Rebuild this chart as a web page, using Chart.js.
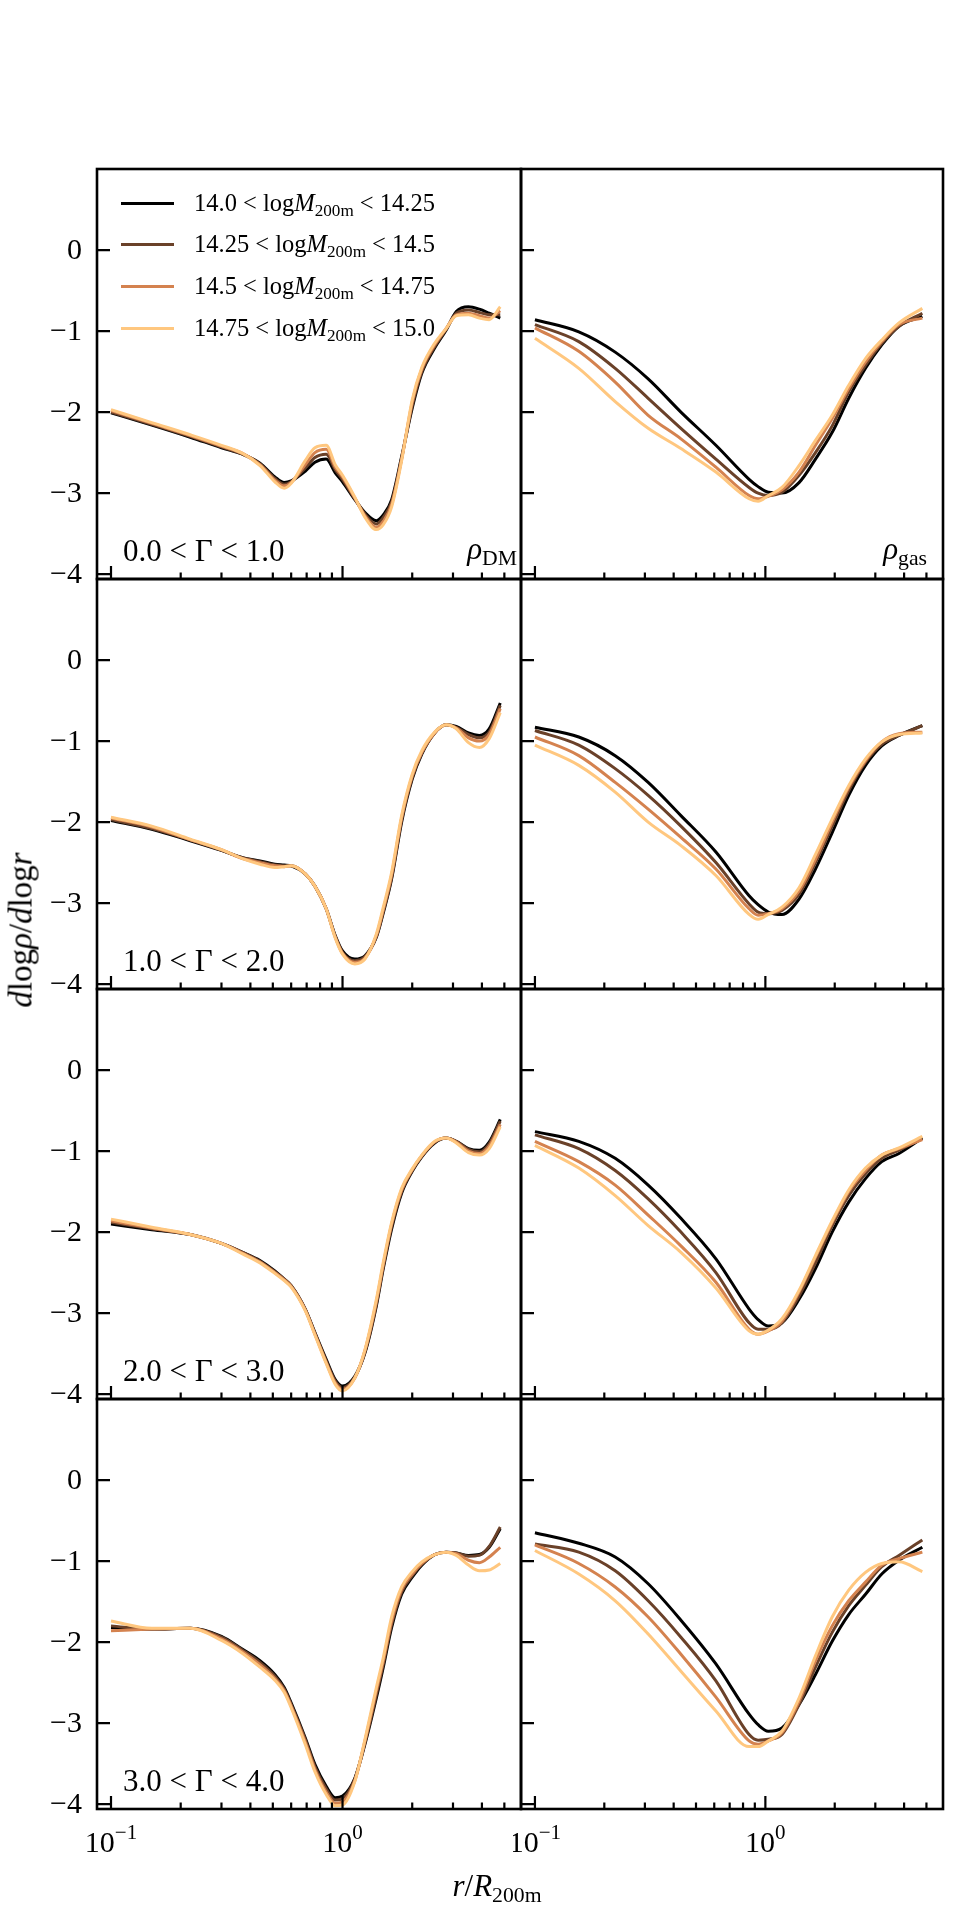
<!DOCTYPE html>
<html>
<head>
<meta charset="utf-8">
<script src="https://cdn.jsdelivr.net/npm/chart.js@4.4.1/dist/chart.umd.min.js"></script>
<style>
  body { margin: 0; background: #fff; }
  #fig { position: relative; width: 972px; height: 1911px; font-family: "Liberation Serif", serif; color: #000; }
  #fig canvas { position: absolute; }
  .txt { position: absolute; white-space: nowrap; line-height: 1; }
  .txt sub { font-size: 0.7em; vertical-align: -0.28em; line-height: 0; }
  .key { position: absolute; height: 3px; width: 53px; }
</style>
</head>
<body>
<div id="fig"></div>
<script>
// r / R200m sample points
const radiusDM = [0.1, 0.15, 0.22, 0.3, 0.37, 0.44, 0.51, 0.56, 0.6, 0.69, 0.76, 0.85, 0.93, 1.0, 1.13, 1.25, 1.4, 1.5, 1.63, 1.8, 2.0, 2.2, 2.5, 2.8, 3.1, 3.5, 3.9, 4.3, 4.8];
const radiusGas = [0.1, 0.155, 0.223, 0.31, 0.43, 0.61, 0.85, 0.93, 1.03, 1.18, 1.4, 1.65, 1.95, 2.3, 2.72, 3.2, 3.8, 4.8];

const massBins = ["14.0", "14.25", "14.5", "14.75", "15.0"];
const gammaBins = ["0.0", "1.0", "2.0", "3.0", "4.0"];
const colors = ["#000000", "#6a4129", "#d4824f", "#ffc77f"]; // copper

const yTicks = [0, -1, -2, -3, -4];
const yTickLabels = ["0", "\u22121", "\u22122", "\u22123", "\u22124"];
const xMajor = [0.1, 1];
const xMajorExp = ["\u22121", "0"];
const xMinor = [0.2, 0.3, 0.4, 0.5, 0.6, 0.7, 0.8, 0.9, 2, 3, 4, 5];

// dlog rho / dlog r, dark matter, one row per mass bin
const dmGamma0 = [
  [-2.01, -2.16, -2.31, -2.44, -2.52, -2.63, -2.80, -2.87, -2.85, -2.73, -2.62, -2.58, -2.75, -2.86, -3.08, -3.24, -3.34, -3.27, -3.08, -2.55, -1.95, -1.52, -1.21, -0.99, -0.76, -0.70, -0.73, -0.78, -0.84],
  [-2.00, -2.15, -2.30, -2.43, -2.52, -2.64, -2.82, -2.89, -2.86, -2.69, -2.56, -2.52, -2.71, -2.83, -3.07, -3.26, -3.38, -3.30, -3.11, -2.57, -1.92, -1.50, -1.19, -0.98, -0.78, -0.74, -0.77, -0.80, -0.80],
  [-1.98, -2.14, -2.29, -2.42, -2.51, -2.65, -2.84, -2.91, -2.87, -2.65, -2.50, -2.46, -2.68, -2.80, -3.06, -3.28, -3.42, -3.35, -3.14, -2.58, -1.88, -1.47, -1.17, -0.97, -0.80, -0.78, -0.81, -0.84, -0.75],
  [-1.97, -2.13, -2.28, -2.41, -2.51, -2.66, -2.86, -2.94, -2.88, -2.60, -2.44, -2.41, -2.65, -2.78, -3.05, -3.30, -3.45, -3.39, -3.17, -2.60, -1.85, -1.45, -1.15, -0.97, -0.81, -0.80, -0.84, -0.86, -0.70]
];
const dmGamma1 = [
  [-1.98, -2.09, -2.23, -2.35, -2.44, -2.48, -2.52, -2.53, -2.54, -2.64, -2.79, -3.07, -3.40, -3.59, -3.69, -3.65, -3.42, -3.12, -2.70, -2.00, -1.47, -1.16, -0.90, -0.80, -0.82, -0.90, -0.93, -0.85, -0.53],
  [-1.97, -2.08, -2.22, -2.35, -2.44, -2.49, -2.53, -2.54, -2.54, -2.64, -2.79, -3.07, -3.41, -3.61, -3.71, -3.66, -3.41, -3.10, -2.68, -1.97, -1.45, -1.15, -0.90, -0.80, -0.83, -0.92, -0.96, -0.89, -0.56],
  [-1.95, -2.06, -2.22, -2.34, -2.45, -2.50, -2.54, -2.55, -2.54, -2.64, -2.79, -3.07, -3.42, -3.62, -3.73, -3.68, -3.40, -3.08, -2.65, -1.95, -1.43, -1.14, -0.90, -0.80, -0.84, -0.96, -1.00, -0.92, -0.60],
  [-1.94, -2.05, -2.21, -2.34, -2.45, -2.52, -2.56, -2.55, -2.54, -2.64, -2.79, -3.07, -3.43, -3.63, -3.75, -3.69, -3.38, -3.05, -2.62, -1.92, -1.41, -1.12, -0.89, -0.80, -0.85, -1.02, -1.08, -0.97, -0.65]
];
const dmGamma2 = [
  [-1.90, -1.97, -2.03, -2.14, -2.25, -2.35, -2.48, -2.58, -2.66, -2.95, -3.24, -3.57, -3.82, -3.90, -3.78, -3.49, -2.91, -2.45, -1.96, -1.52, -1.25, -1.07, -0.90, -0.84, -0.88, -0.97, -0.99, -0.89, -0.61],
  [-1.88, -1.96, -2.03, -2.14, -2.25, -2.36, -2.49, -2.58, -2.66, -2.95, -3.25, -3.59, -3.84, -3.92, -3.79, -3.48, -2.89, -2.42, -1.93, -1.50, -1.24, -1.06, -0.89, -0.84, -0.88, -0.98, -1.01, -0.91, -0.63],
  [-1.86, -1.95, -2.03, -2.14, -2.26, -2.37, -2.50, -2.59, -2.67, -2.96, -3.26, -3.61, -3.86, -3.94, -3.80, -3.46, -2.86, -2.40, -1.90, -1.48, -1.23, -1.06, -0.89, -0.84, -0.89, -1.00, -1.03, -0.94, -0.67],
  [-1.84, -1.94, -2.03, -2.14, -2.27, -2.38, -2.51, -2.60, -2.68, -2.97, -3.27, -3.62, -3.88, -3.96, -3.80, -3.45, -2.83, -2.37, -1.88, -1.46, -1.22, -1.05, -0.88, -0.84, -0.90, -1.02, -1.05, -0.97, -0.70]
];
const dmGamma3 = [
  [-1.82, -1.84, -1.83, -1.93, -2.09, -2.23, -2.40, -2.56, -2.75, -3.18, -3.51, -3.78, -3.92, -3.90, -3.68, -3.26, -2.69, -2.31, -1.82, -1.41, -1.20, -1.05, -0.92, -0.89, -0.90, -0.93, -0.92, -0.83, -0.60],
  [-1.80, -1.84, -1.83, -1.94, -2.10, -2.25, -2.42, -2.58, -2.77, -3.20, -3.54, -3.81, -3.95, -3.93, -3.69, -3.24, -2.65, -2.27, -1.78, -1.38, -1.18, -1.04, -0.92, -0.89, -0.90, -0.94, -0.93, -0.82, -0.58],
  [-1.86, -1.84, -1.83, -1.96, -2.12, -2.28, -2.45, -2.60, -2.79, -3.23, -3.57, -3.85, -3.99, -3.97, -3.71, -3.22, -2.60, -2.23, -1.74, -1.35, -1.16, -1.03, -0.92, -0.89, -0.91, -0.99, -1.02, -0.95, -0.83],
  [-1.74, -1.83, -1.83, -1.98, -2.14, -2.31, -2.47, -2.62, -2.81, -3.26, -3.60, -3.88, -4.02, -4.01, -3.72, -3.20, -2.56, -2.19, -1.69, -1.32, -1.13, -1.01, -0.92, -0.89, -0.93, -1.05, -1.12, -1.11, -1.03]
];

// dlog rho / dlog r, gas
const gasGamma0 = [
  [-0.86, -1.01, -1.26, -1.59, -2.00, -2.41, -2.83, -2.92, -2.99, -3.00, -2.87, -2.58, -2.25, -1.83, -1.46, -1.17, -0.94, -0.82],
  [-0.92, -1.13, -1.46, -1.83, -2.20, -2.58, -2.93, -3.00, -3.03, -2.99, -2.78, -2.50, -2.17, -1.75, -1.42, -1.15, -0.94, -0.78],
  [-0.96, -1.25, -1.63, -2.04, -2.33, -2.68, -3.03, -3.07, -3.04, -2.96, -2.74, -2.41, -2.08, -1.71, -1.38, -1.13, -0.92, -0.84],
  [-1.09, -1.46, -1.87, -2.20, -2.45, -2.74, -3.07, -3.10, -3.03, -2.93, -2.66, -2.35, -2.04, -1.67, -1.34, -1.11, -0.90, -0.72]
];
const gasGamma1 = [
  [-0.83, -0.95, -1.18, -1.51, -1.92, -2.37, -2.91, -3.02, -3.11, -3.14, -2.95, -2.58, -2.13, -1.67, -1.30, -1.06, -0.93, -0.81],
  [-0.87, -1.05, -1.34, -1.67, -2.05, -2.50, -3.01, -3.11, -3.13, -3.09, -2.89, -2.50, -2.05, -1.61, -1.26, -1.04, -0.93, -0.81],
  [-0.95, -1.18, -1.51, -1.84, -2.19, -2.58, -3.07, -3.15, -3.13, -3.07, -2.85, -2.46, -2.00, -1.57, -1.24, -1.01, -0.91, -0.89],
  [-1.05, -1.30, -1.63, -2.00, -2.29, -2.66, -3.14, -3.20, -3.14, -3.05, -2.81, -2.40, -1.96, -1.55, -1.22, -1.01, -0.92, -0.90]
];
const gasGamma2 = [
  [-0.76, -0.88, -1.09, -1.42, -1.83, -2.33, -2.95, -3.08, -3.16, -3.12, -2.83, -2.45, -2.00, -1.63, -1.34, -1.13, -1.03, -0.84],
  [-0.80, -0.97, -1.24, -1.59, -2.00, -2.50, -3.12, -3.20, -3.20, -3.12, -2.79, -2.38, -1.92, -1.55, -1.28, -1.09, -0.99, -0.84],
  [-0.88, -1.13, -1.42, -1.79, -2.17, -2.62, -3.20, -3.26, -3.22, -3.10, -2.74, -2.31, -1.88, -1.50, -1.24, -1.05, -0.97, -0.86],
  [-0.93, -1.21, -1.55, -1.92, -2.25, -2.69, -3.22, -3.26, -3.21, -3.07, -2.72, -2.29, -1.86, -1.48, -1.21, -1.05, -0.96, -0.82]
];
const gasGamma3 = [
  [-0.65, -0.78, -0.95, -1.28, -1.73, -2.27, -2.89, -3.02, -3.10, -3.06, -2.77, -2.40, -1.99, -1.66, -1.41, -1.16, -0.99, -0.83],
  [-0.79, -0.89, -1.12, -1.49, -1.94, -2.48, -3.14, -3.21, -3.20, -3.14, -2.77, -2.31, -1.88, -1.55, -1.30, -1.07, -0.93, -0.74],
  [-0.80, -1.03, -1.32, -1.69, -2.15, -2.68, -3.22, -3.26, -3.22, -3.12, -2.73, -2.23, -1.80, -1.49, -1.26, -1.05, -0.97, -0.89],
  [-0.87, -1.16, -1.49, -1.90, -2.36, -2.85, -3.29, -3.29, -3.22, -3.10, -2.69, -2.17, -1.69, -1.36, -1.14, -1.03, -1.01, -1.13]
];

const dmRows = [dmGamma0, dmGamma1, dmGamma2, dmGamma3];
const gasRows = [gasGamma0, gasGamma1, gasGamma2, gasGamma3];

// panel boxes in page pixels
const colX = [97, 521];
const colW = [424, 422];
const rowY = [169, 579, 989, 1399];
const rowH = 410;

const fig = document.getElementById("fig");

// frame, inward ticks and tick labels drawn off the chart scales
const frameTicks = {
  id: "frameTicks",
  afterDatasetsDraw(chart, args, opts) {
    const { ctx, chartArea: a } = chart;
    const x = chart.scales.x;
    const y = chart.scales.y;
    ctx.save();
    ctx.strokeStyle = "#000";
    ctx.lineWidth = 2.6;
    ctx.strokeRect(a.left, a.top, a.right - a.left, a.bottom - a.top);
    ctx.lineWidth = 2.2;
    ctx.beginPath();
    yTicks.forEach((v) => {
      const py = y.getPixelForValue(v);
      ctx.moveTo(a.left, py);
      ctx.lineTo(a.left + 13, py);
    });
    xMajor.forEach((v) => {
      const px = x.getPixelForValue(v);
      ctx.moveTo(px, a.bottom);
      ctx.lineTo(px, a.bottom - 13);
    });
    xMinor.forEach((v) => {
      const px = x.getPixelForValue(v);
      ctx.moveTo(px, a.bottom);
      ctx.lineTo(px, a.bottom - 6.5);
    });
    ctx.stroke();

    ctx.fillStyle = "#000";
    if (opts.yLabels) {
      ctx.font = '30px "Liberation Serif"';
      ctx.textAlign = "right";
      ctx.textBaseline = "middle";
      yTicks.forEach((v, i) => {
        ctx.fillText(yTickLabels[i], a.left - 15, y.getPixelForValue(v) + 1);
      });
    }
    if (opts.xLabels) {
      ctx.textBaseline = "alphabetic";
      ctx.textAlign = "left";
      xMajor.forEach((v, i) => {
        ctx.font = '30px "Liberation Serif"';
        const wBase = ctx.measureText("10").width;
        ctx.font = '21px "Liberation Serif"';
        const wExp = ctx.measureText(xMajorExp[i]).width;
        const left = x.getPixelForValue(v) - (wBase + wExp) / 2;
        const base = a.bottom + 43;
        ctx.font = '30px "Liberation Serif"';
        ctx.fillText("10", left, base);
        ctx.font = '21px "Liberation Serif"';
        ctx.fillText(xMajorExp[i], left + wBase, base - 13);
      });
    }
    ctx.restore();
  }
};

function makePanel(col, row, xs, series) {
  const padL = col === 0 ? 97 : 8;
  const padR = 8;
  const padT = 8;
  const padB = row === 3 ? 70 : 8;
  const canvas = document.createElement("canvas");
  canvas.width = padL + colW[col] + padR;
  canvas.height = padT + rowH + padB;
  canvas.style.left = colX[col] - padL + "px";
  canvas.style.top = rowY[row] - padT + "px";
  fig.appendChild(canvas);

  return new Chart(canvas, {
    type: "line",
    data: {
      datasets: series.map((ys, i) => ({
        label: massBins[i] + "-" + massBins[i + 1],
        data: xs.map((r, j) => ({ x: r, y: ys[j] })),
        borderColor: colors[i],
        borderWidth: 3,
        pointRadius: 0,
        fill: false,
        cubicInterpolationMode: "monotone",
        order: 3 - i,
      })),
    },
    options: {
      responsive: false,
      animation: false,
      events: [],
      layout: { padding: { left: padL, right: padR, top: padT, bottom: padB } },
      plugins: {
        legend: { display: false },
        tooltip: { enabled: false },
        frameTicks: { yLabels: col === 0, xLabels: row === 3 },
      },
      scales: {
        x: { type: "logarithmic", min: 0.087, max: 5.9, display: false },
        y: { type: "linear", min: -4.06, max: 1, display: false },
      },
    },
    plugins: [frameTicks],
  });
}

for (let row = 0; row < 4; row++) {
  makePanel(0, row, radiusDM, dmRows[row]);
  makePanel(1, row, radiusGas, gasRows[row]);
}

function addText(html, left, top, size, extra) {
  const el = document.createElement("div");
  el.className = "txt";
  el.innerHTML = html;
  el.style.left = left + "px";
  el.style.top = top + "px";
  el.style.fontSize = size + "px";
  if (extra) Object.assign(el.style, extra);
  fig.appendChild(el);
  return el;
}

// legend in the first panel
for (let i = 0; i < 4; i++) {
  const yMid = 203 + i * 41.8;
  const key = document.createElement("div");
  key.className = "key";
  key.style.left = "121px";
  key.style.top = yMid - 1.5 + "px";
  key.style.background = colors[i];
  fig.appendChild(key);
  addText(massBins[i] + " &lt; log<i>M</i><sub>200m</sub> &lt; " + massBins[i + 1], 194, yMid - 12.5, 24.5);
}

// Gamma bins per row, component names on the top row
for (let row = 0; row < 4; row++) {
  const bottom = rowY[row] + rowH;
  addText(gammaBins[row] + " &lt; &Gamma; &lt; " + gammaBins[row + 1], 123, bottom - 18 - 26, 31);
}
addText("<i>&rho;</i><sub>DM</sub>", 0, rowY[0] + rowH - 20 - 26, 31, { left: "auto", right: 972 - 517 + "px" });
addText("<i>&rho;</i><sub>gas</sub>", 0, rowY[0] + rowH - 20 - 26, 31, { left: "auto", right: 972 - 927 + "px" });

// axis titles
addText("<i>r</i>/<i>R</i><sub>200m</sub>", 497, 1870, 31, { transform: "translateX(-50%)" });
addText("<i>d</i>log<i>&rho;</i>/<i>d</i>log<i>r</i>", 21, 930, 33, { transform: "translate(-50%, -50%) rotate(-90deg)" });
</script>
</body>
</html>
